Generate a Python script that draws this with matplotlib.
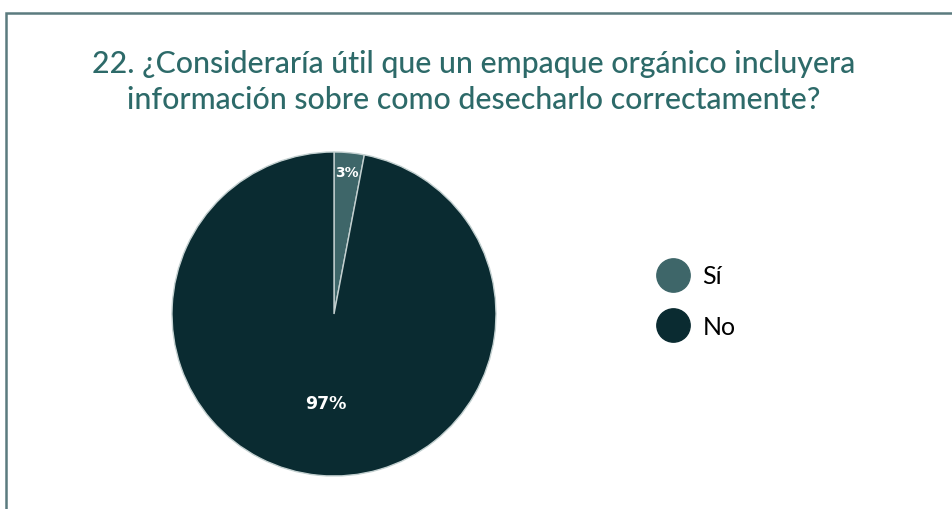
import matplotlib.pyplot as plt
from matplotlib.lines import Line2D
from matplotlib.patches import Rectangle
import numpy as np

# datos
categorias = ['Sí', 'No']
valores = [3, 97]
colores = ['#3e6669', '#0a2b31']
titulo = '22. ¿Consideraría útil que un empaque orgánico incluyera\ninformación sobre como desecharlo correctamente?'

W, H = 952, 510
fig = plt.figure(figsize=(W / 100, H / 100), dpi=100)
fig.patch.set_facecolor('white')

# marco de la diapositiva
fig.patches.append(Rectangle((6 / W, -0.1), 1.2, (H - 14) / H + 0.1, transform=fig.transFigure,
                             fill=False, edgecolor='#5b7b7f', linewidth=1.8))

fig.text(474 / W, 1 - 82 / H, titulo, ha='center', va='center', fontsize=21.8,
         color='#2d6a69', family='Lato', fontweight='medium', linespacing=1.35)

# pastel
cx, cy, r = 334, 315, 162
ax = fig.add_axes([(cx - r) / W, (H - cy - r) / H, 2 * r / W, 2 * r / H])
wedges, texts = ax.pie(valores, colors=colores, startangle=90, counterclock=False,
                       wedgeprops=dict(edgecolor='#c3d0d0', linewidth=1))
ax.set_xlim(-1, 1)
ax.set_ylim(-1, 1)
ax.set_aspect('equal')

dist = [0.88, 0.55]
tam = [10, 12.5]
for w, v, d, s in zip(wedges, valores, dist, tam):
    ang = np.deg2rad((w.theta1 + w.theta2) / 2)
    ax.text(d * np.cos(ang), d * np.sin(ang), f'{v}%', ha='center', va='center',
            color='white', fontsize=s, fontweight='bold')

handles = [Line2D([], [], marker='o', linestyle='', markersize=24, color=c) for c in colores]
fig.legend(handles, categorias, loc='center left', bbox_to_anchor=(630 / W, 1 - 302 / H),
           frameon=False, labelspacing=1.1, handletextpad=0.4, handlelength=1.6,
           prop={'family': 'Lato', 'size': 18})

fig.savefig('out.png', dpi=100)
